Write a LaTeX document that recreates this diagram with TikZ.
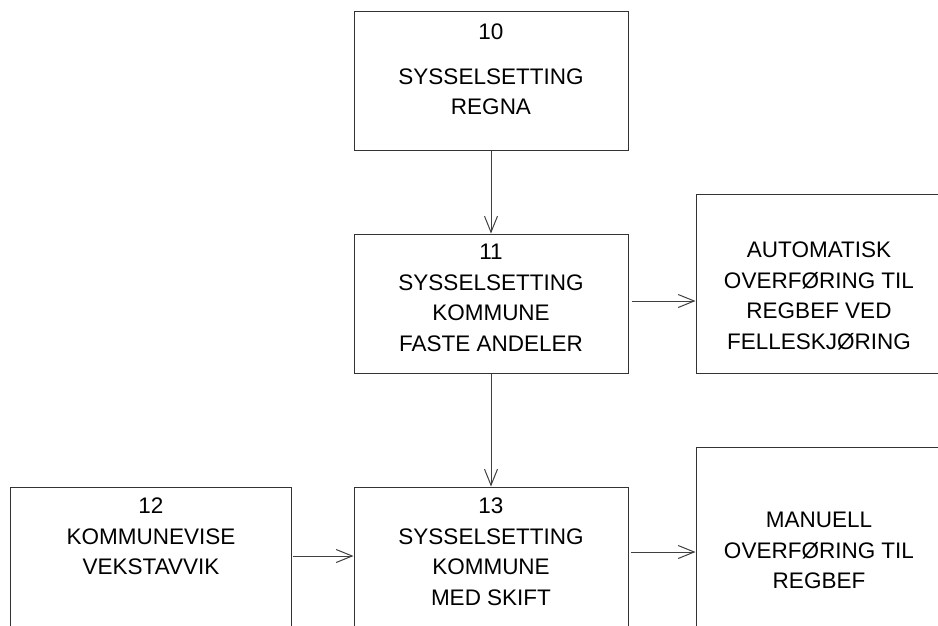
\documentclass[tikz,border=0pt]{standalone}
\usepackage{fontspec}
\setmainfont{Liberation Sans}
\usetikzlibrary{arrows.meta}

\tikzset{
  box/.style={draw=black!80, line width=1pt, rectangle, inner sep=0pt},
  label/.style={inner sep=0pt, anchor=north, align=center, text=black,
    font=\fontsize{22.5}{30.5}\selectfont},
  arr/.style={draw=black!75, line width=1pt,
    -{Straight Barb[length=16pt,width=13pt,line width=1pt]}}
}

\begin{document}
\begin{tikzpicture}[x=1pt,y=-1pt]
  \useasboundingbox (0,0) rectangle (938,625);
  \clip (0,0) rectangle (938,625);
  \fill[white] (0,0) rectangle (938,625);

  % boxes
  \node[box, minimum width=274pt, minimum height=139pt] (b10) at (491,80.5) {};
  \node[box, minimum width=274pt, minimum height=139pt] (b11) at (491,303.5) {};
  \node[box, minimum width=249pt, minimum height=179pt] (auto) at (820.5,283.5) {};
  \node[box, minimum width=281pt, minimum height=153pt] (b12) at (150.5,563.5) {};
  \node[box, minimum width=274pt, minimum height=153pt] (b13) at (491,563.5) {};
  \node[box, minimum width=249pt, minimum height=193pt] (man) at (820.5,543.5) {};

  % texts
  \node[label] (t10) at (491,24) {10\\[14pt]SYSSELSETTING\\REGNA};
  \node[label] (t11) at (491,244) {11\\SYSSELSETTING\\KOMMUNE\\FASTE ANDELER};
  \node[label] (tauto) at (819,242) {AUTOMATISK\\OVERFØRING TIL\\REGBEF VED\\FELLESKJØRING};
  \node[label] (t12) at (151,498) {12\\KOMMUNEVISE\\VEKSTAVVIK};
  \node[label] (t13) at (491,498) {13\\SYSSELSETTING\\KOMMUNE\\MED SKIFT};
  \node[label] (tman) at (819,512) {MANUELL\\OVERFØRING TIL\\REGBEF};

  % connectors
  \draw[arr] (b10.south) -- (b11.north);
  \draw[arr] (b11.south) -- (b13.north);
  \draw[arr] ([xshift=3pt,yshift=2.5pt]b11.east) -- ([yshift=2.5pt]b11.east -| auto.west);
  \draw[arr] ([xshift=1pt,yshift=7.5pt]b12.east) -- ([yshift=7.5pt]b12.east -| b13.west);
  \draw[arr] ([xshift=2pt,yshift=11.5pt]b13.east) -- ([yshift=11.5pt]b13.east -| man.west);
\end{tikzpicture}
\end{document}
